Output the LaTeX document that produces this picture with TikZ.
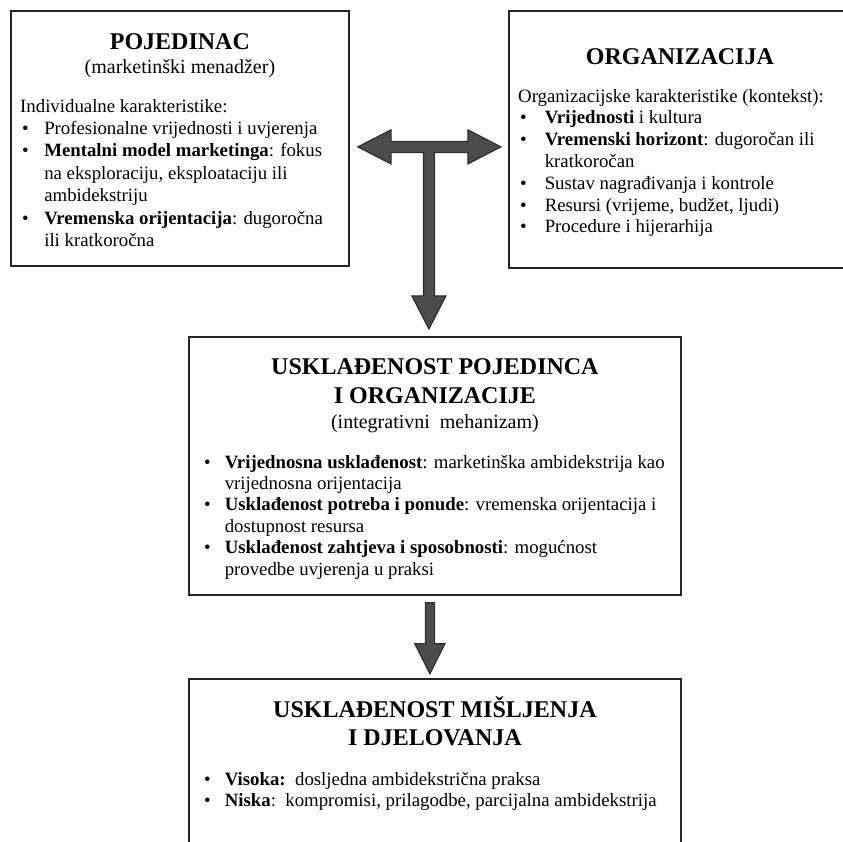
\documentclass[tikz,border=0pt]{standalone}
\usepackage{fontspec}
\setmainfont{Liberation Serif}
\usepackage{tikz}
\usetikzlibrary{positioning, calc}

\begin{document}
\begin{tikzpicture}[
  x=1pt, y=-1pt,
  box/.style={draw=black!85, line width=1.8pt, anchor=north west, inner sep=0pt},
  headline/.style={font=\fontsize{24}{29}\selectfont\bfseries, inner sep=0pt},
  subline/.style={font=\fontsize{20}{24}\selectfont, inner sep=0pt},
  bullets/.style={font=\fontsize{18.8}{22.4}\selectfont, inner sep=0pt, align=left},
  fat/.style={fill=black!70, draw=black!82, line width=1.2pt, line join=miter}
]
\useasboundingbox (0,0) rectangle (843,841);

% Boxes
\node[box, minimum width=338pt, minimum height=255pt] (pojedinac) at (10,10) {};
\node[box, minimum width=342pt, minimum height=257pt] (organizacija) at (508,10) {};
\node[box, minimum width=492pt, minimum height=258pt] (usklad) at (188,336) {};
\node[box, minimum width=492pt, minimum height=190pt] (misljenje) at (188,678) {};

% Pojedinac
\node[headline, below=39.5pt of pojedinac.north, anchor=base] (pojhead) {POJEDINAC};
\node[subline, below=63pt of pojedinac.north, anchor=base] (pojsub) {(marketinški menadžer)};
\node[bullets, below right=102pt and 10pt of pojedinac.north west, anchor=base west] (pojlist) {%
  \begin{tabular}[t]{@{\hspace{2pt}}l@{\hspace{15.5pt}}l@{}}
    \multicolumn{2}{@{}l@{}}{Individualne karakteristike:}\\
    \textbullet & Profesionalne vrijednosti i uvjerenja\\
    \textbullet & \textbf{Mentalni model marketinga}: fokus\\
                & na eksploraciju, eksploataciju ili\\
                & ambidekstriju\\
    \textbullet & \textbf{Vremenska orijentacija}: dugoročna\\
                & ili kratkoročna
  \end{tabular}};

% Organizacija
\node[headline, below=54.5pt of organizacija.north, anchor=base] (orghead) {ORGANIZACIJA};
\node[bullets, font=\fontsize{18.8}{21.8}\selectfont, below right=92pt and 10pt of organizacija.north west, anchor=base west] (orglist) {%
  \begin{tabular}[t]{@{\hspace{2pt}}l@{\hspace{18pt}}l@{}}
    \multicolumn{2}{@{}l@{}}{Organizacijske karakteristike (kontekst):}\\
    \textbullet & \textbf{Vrijednosti} i kultura\\
    \textbullet & \textbf{Vremenski horizont}: dugoročan ili\\
                & kratkoročan\\
    \textbullet & Sustav nagrađivanja i kontrole\\
    \textbullet & Resursi (vrijeme, budžet, ljudi)\\
    \textbullet & Procedure i hijerarhija
  \end{tabular}};

% Uskladjenost pojedinca i organizacije
\node[headline, below=38.5pt of usklad.north, anchor=base] (uskhead1) {USKLAĐENOST POJEDINCA};
\node[headline, below=67.5pt of usklad.north, anchor=base] (uskhead2) {I ORGANIZACIJE};
\node[subline, below=92pt of usklad.north, anchor=base] (usksub) {(integrativni\ \ mehanizam)};
\node[bullets, font=\fontsize{18.8}{21.4}\selectfont, below right=132pt and 16pt of usklad.north west, anchor=base west] (usklist) {%
  \begin{tabular}[t]{@{}l@{\hspace{14pt}}l@{}}
    \textbullet & \textbf{Vrijednosna usklađenost}: marketinška ambidekstrija kao\\
                & vrijednosna orijentacija\\
    \textbullet & \textbf{Usklađenost potreba i ponude}: vremenska orijentacija i\\
                & dostupnost resursa\\
    \textbullet & \textbf{Usklađenost zahtjeva i sposobnosti}: mogućnost\\
                & provedbe uvjerenja u praksi
  \end{tabular}};

% Uskladjenost misljenja i djelovanja
\node[headline, below=39.5pt of misljenje.north, anchor=base] (mislhead1) {USKLAĐENOST MIŠLJENJA};
\node[headline, below=67.5pt of misljenje.north, anchor=base] (mislhead2) {I DJELOVANJA};
\node[bullets, font=\fontsize{18.8}{21}\selectfont, below right=107pt and 16pt of misljenje.north west, anchor=base west] (misllist) {%
  \begin{tabular}[t]{@{}l@{\hspace{14pt}}l@{}}
    \textbullet & \textbf{Visoka:}\ \ dosljedna ambidekstrična praksa\\
    \textbullet & \textbf{Niska}:\ \ kompromisi, prilagodbe, parcijalna ambidekstrija
  \end{tabular}};

% T arrow between the two top boxes and down
\coordinate (tee) at ($(pojedinac.east)!0.5!(organizacija.west)+(0,8)$);
\draw[fat] (tee) ++(-71,0) -- ++(33,-17) -- ++(0,11.5) -- ++(77,0) -- ++(0,-11.5)
  -- ++(33,17) -- ++(-33,17) -- ++(0,-11.5) -- ++(-33.5,0) -- ++(0,143.5)
  -- ++(11.5,0) -- ++(-17,33) -- ++(-17,-33) -- ++(11.5,0) -- ++(0,-143.5)
  -- ++(-32.5,0) -- ++(0,11.5) -- cycle;

% Arrow to the last box
\coordinate (down) at ($(usklad.south)+(-5,7)$);
\draw[fat] (down) ++(-4.5,0) -- ++(9,0) -- ++(0,41) -- ++(10.5,0) -- ++(-15,30)
  -- ++(-15,-30) -- ++(10.5,0) -- cycle;

\end{tikzpicture}
\end{document}
